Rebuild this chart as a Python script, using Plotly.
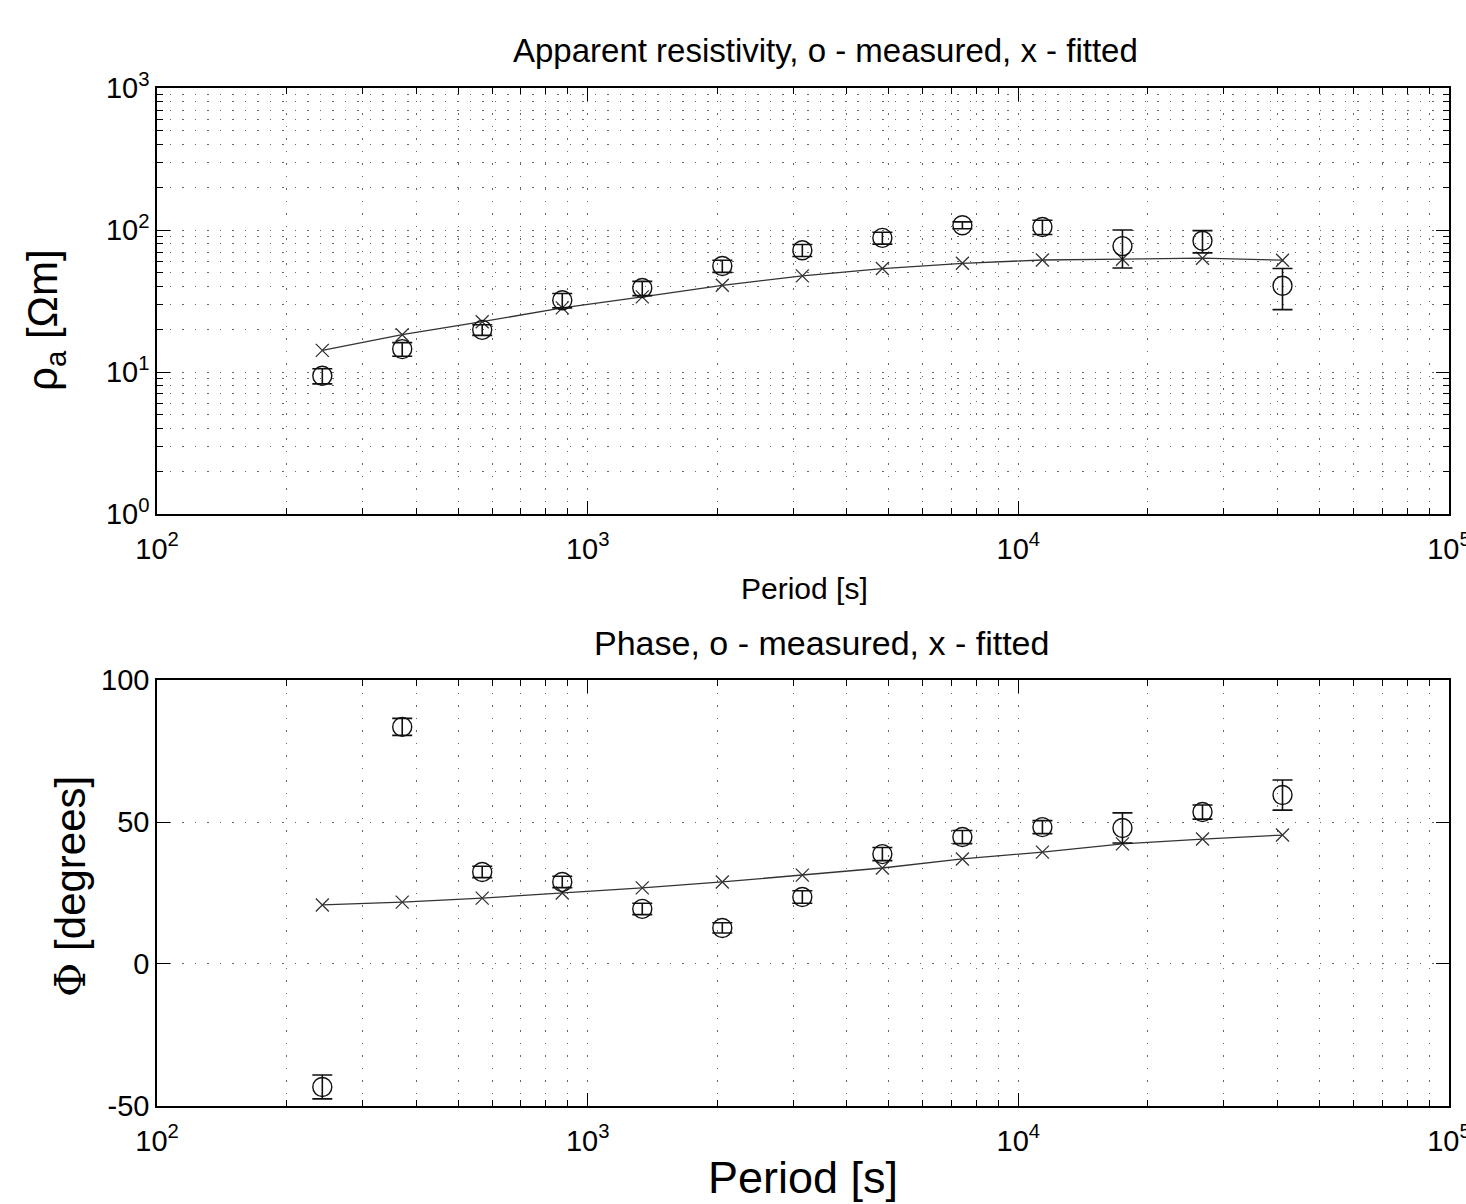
import plotly.graph_objects as go
from plotly.subplots import make_subplots

# ---- data ----
period = [242, 371, 569, 873, 1339, 2054, 3151, 4834, 7415, 11375, 17450, 26770, 41060]
rho_meas = [9.4, 14.5, 19.8, 32, 39, 55.8, 72, 88, 108, 105, 77, 84, 40.5]
rho_err = [1.15, 1.6, 1.7, 3.7, 4.5, 5.5, 7, 8.5, 6, 12, 23, 15, 13]
rho_fit = [14.2, 18.3, 22.6, 28.3, 33.8, 40.8, 47.5, 53.5, 58.3, 61.5, 62.3, 63.3, 61.3]

phase_meas = [-43.3, 83.5, 32.4, 28.9, 19.4, 12.7, 23.6, 38.7, 44.7, 48.2, 47.9, 53.5, 59.5]
phase_err = [4.2, 3, 2, 2, 2, 1.8, 2.2, 2.3, 2.3, 2.3, 5.3, 2.5, 5.3]
phase_fit = [20.8, 21.8, 23.2, 25, 26.8, 28.9, 31.3, 33.8, 37, 39.4, 42.3, 44, 45.4]

x_tickvals = [100, 1000, 10000, 100000]
x_ticktext = ["10<sup>2</sup>", "10<sup>3</sup>", "10<sup>4</sup>", "10<sup>5</sup>"]
rho_tickvals = [1, 10, 100, 1000]
rho_ticktext = ["10<sup>0</sup>", "10<sup>1</sup>", "10<sup>2</sup>", "10<sup>3</sup>"]
phase_tickvals = [-50, 0, 50, 100]
phase_ticktext = ["-50", "0", "50", "100"]

x_minor = [m * 10 ** k for k in range(2, 5) for m in range(2, 10)]
rho_minor = [m * 10 ** k for k in range(0, 3) for m in range(2, 10)]

FONT = "Liberation Sans, Arial, Helvetica, sans-serif"
INK = "#111111"
GRID = "#666666"
GDASH = "1.5px,11px"

W, H = 1466, 1204
ML, MR, MT, MB = 157, 17, 88, 98

fig = make_subplots(rows=2, cols=1, vertical_spacing=0.0)

def add_panel(row, meas, err, fit):
    fig.add_trace(go.Scatter(
        x=period, y=fit, mode="lines+markers",
        line=dict(color="#333333", width=1.3),
        marker=dict(symbol="x-thin-open", size=13, line=dict(color=INK, width=1.3)),
        showlegend=False), row=row, col=1)
    fig.add_trace(go.Scatter(
        x=period, y=meas, mode="markers",
        marker=dict(symbol="circle-open", size=19, color=INK, line=dict(color=INK, width=1.4)),
        error_y=dict(type="data", array=err, visible=True, color=INK, thickness=1.6, width=10),
        showlegend=False), row=row, col=1)

add_panel(1, rho_meas, rho_err, rho_fit)
add_panel(2, phase_meas, phase_err, phase_fit)

ax_common = dict(
    showline=True, linecolor="black", linewidth=1.5, mirror="allticks",
    ticks="inside", ticklen=13, tickwidth=1.3, tickcolor="black",
    showgrid=True, gridcolor=GRID, griddash=GDASH, gridwidth=1.3,
    zeroline=False, ticklabeloverflow="allow", automargin=False,
    tickfont=dict(family=FONT, size=29, color="black"),
)

def minor_of(vals):
    return dict(tickvals=vals, ticks="inside", ticklen=6, tickcolor="black", tickwidth=1.2,
                showgrid=True, gridcolor=GRID, griddash=GDASH, gridwidth=1.3)

for r in (1, 2):
    fig.update_xaxes(type="log", range=[1.99995, 5.00005], tickvals=x_tickvals, ticktext=x_ticktext,
                     minor=minor_of(x_minor), ticklabelstandoff=8, row=r, col=1, **ax_common)

fig.update_yaxes(type="log", range=[-0.00005, 3.00005], tickvals=rho_tickvals, ticktext=rho_ticktext,
                 minor=minor_of(rho_minor), row=1, col=1, **ax_common)
fig.update_yaxes(range=[-50.01, 100.01], tickvals=phase_tickvals, ticktext=phase_ticktext,
                 row=2, col=1, **ax_common)

PH = H - MT - MB
top_lo = (H - MB - 514) / PH
bot_hi = (H - MB - 680) / PH
fig.update_layout(
    yaxis=dict(domain=[top_lo, 1]),
    yaxis2=dict(domain=[0, bot_hi]),
    xaxis=dict(domain=[0, 1]),
    xaxis2=dict(domain=[0, 1]),
)

def px_x(p):
    return (p - ML) / (W - ML - MR)

def px_y(p):
    return (H - MB - p) / PH

ann = [
    dict(text="Apparent resistivity, o - measured, x - fitted", x=px_x(825), y=px_y(50), size=33),
    dict(text="Period [s]", x=px_x(804), y=px_y(588), size=30),
    dict(text="Phase, o - measured, x - fitted", x=px_x(822), y=px_y(643), size=34),
    dict(text="Period [s]", x=px_x(803), y=px_y(1177), size=45),
]
for a in ann:
    fig.add_annotation(text=a["text"], x=a["x"], y=a["y"], xref="paper", yref="paper",
                       showarrow=False, xanchor="center", yanchor="middle",
                       font=dict(family=FONT, size=a["size"], color="black"))

fig.add_annotation(text="ρ<sub>a</sub> [Ωm]", x=px_x(45), y=px_y(320), xref="paper", yref="paper",
                   showarrow=False, textangle=-90, xanchor="center", yanchor="middle",
                   font=dict(family=FONT, size=42, color="black"))
fig.add_annotation(text="<span style='font-family:DejaVu Serif, Liberation Serif, serif'>Φ</span> [degrees]",
                   x=px_x(70), y=px_y(887), xref="paper", yref="paper",
                   showarrow=False, textangle=-90, xanchor="center", yanchor="middle",
                   font=dict(family=FONT, size=42, color="black"))

fig.update_layout(
    width=W, height=H,
    margin=dict(l=ML, r=MR, t=MT, b=MB),
    plot_bgcolor="white", paper_bgcolor="white",
    font=dict(family=FONT, color="black"),
)

fig.write_html("out.html", config={"displayModeBar": False},
               post_script="document.body.style.margin='0';")
